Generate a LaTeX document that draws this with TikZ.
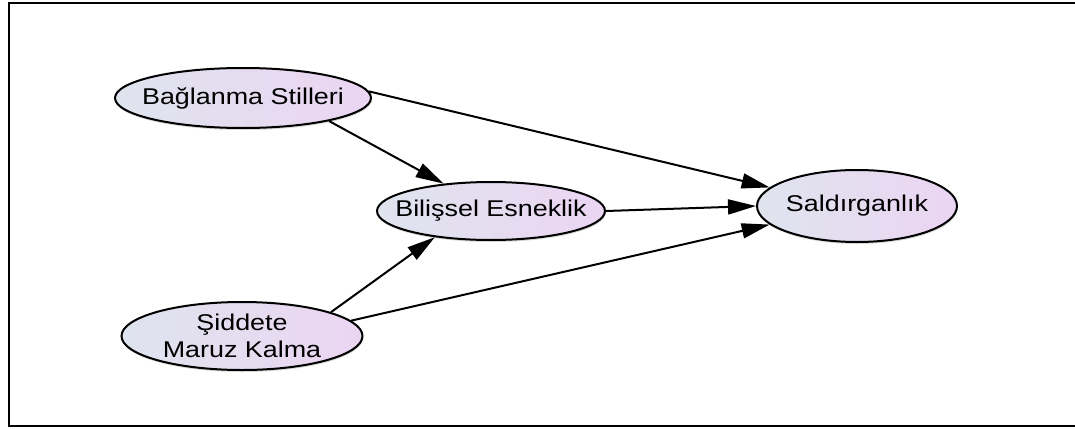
\documentclass[tikz,border=0pt]{standalone}
\usepackage{fontspec}
\setmainfont[FakeStretch=1.18]{Liberation Sans}
\usetikzlibrary{shapes.geometric,arrows.meta,shadows}

\definecolor{varleft}{RGB}{223,228,238}
\definecolor{varright}{RGB}{235,213,242}

\begin{document}
\begin{tikzpicture}[x=1pt, y=-1pt,
      var/.style = {shape=ellipse, draw, line width=2pt, inner sep=0pt,
        left color=varleft, right color=varright,
        drop shadow={shadow xshift=0.5pt, shadow yshift=-2pt, opacity=0.3}},
      every label/.style = {font=\fontsize{22.8}{27}\selectfont, align=center},
      link/.style = {draw, line width=2pt, -{Triangle[length=28pt,width=15pt]}}]
  \useasboundingbox (0,0) rectangle (1075,428);
  \draw[line width=2.2pt] (1075,3) -- (9,3) -- (9,426) -- (1075,426);

  \node[var, minimum width=256pt, minimum height=60pt,
        label={center:Bağlanma Stilleri}] (bag) at (243,98) {};
  \node[var, minimum width=228pt, minimum height=58pt,
        label={center:Bilişsel Esneklik}] (bil) at (491,211) {};
  \node[var, minimum width=200pt, minimum height=72pt,
        label={center:Saldırganlık}] (sal) at (857,206) {};
  \node[var, minimum width=241pt, minimum height=68pt,
        label={center:Şiddete\\Maruz Kalma}] (sid) at (242,336) {};

  \draw[link] (bag.-15) -- (bil.150);
  \draw[link] (bag.3) -- (sal.168);
  \draw[link] (bil.0) -- (sal.180);
  \draw[link] (sid.15) -- (bil.205);
  \draw[link] (sid.8) -- (sal.192);
\end{tikzpicture}
\end{document}
